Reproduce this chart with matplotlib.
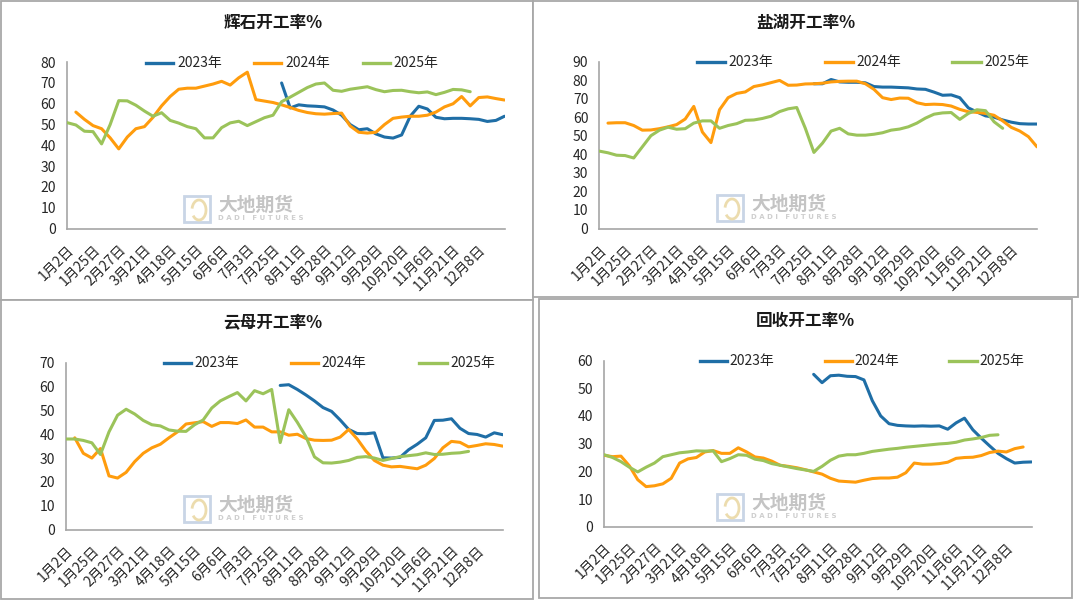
import numpy as np
import matplotlib
matplotlib.use('Agg')
import matplotlib.pyplot as plt
import matplotlib.transforms as mtransforms
from matplotlib.lines import Line2D
from matplotlib.patches import Rectangle, Arc

plt.rcParams['font.family'] = ['Noto Sans CJK SC', 'DejaVu Sans']

# ---------------- data ----------------
dates = ['1月2日', '1月25日', '2月27日', '3月21日', '4月18日', '5月15日', '6月6日',
         '7月3日', '7月25日', '8月11日', '8月28日', '9月12日', '9月29日',
         '10月20日', '11月6日', '11月21日', '12月8日']
n_points = 52
series_names = ['2023年', '2024年', '2025年']

# 辉石开工率%
hs_2023 = [None] * 25 + [70, 58, 59.5, 59, 58.8, 58.5, 57, 54.5, 50, 47.5, 48, 45.5, 44, 43.5,
                         45, 54, 58.8, 57.5, 53.5, 52.8, 53, 53, 52.8, 52.5, 51.5, 52, 54]
hs_2024 = [None, 56, 52.5, 49.5, 48, 43.6, 38.3, 44, 48, 49, 53.5, 59, 63.5, 67, 67.5, 67.5,
           68.5, 69.5, 70.8, 69, 72.5, 75.2, 62, 61.3, 60.6, 59.5, 58.2, 56.8, 55.8, 55.2, 55,
           55.3, 55.5, 49.3, 46.3, 45.9, 46.3, 50, 53, 53.6, 54, 54, 54.5, 56, 58.5, 60, 63.5,
           59, 63, 63.3, 62.5, 61.8]
hs_2025 = [50.9, 49.8, 46.8, 46.6, 40.7, 50, 61.5, 61.4, 59.3, 56.5, 54, 55.7, 52, 50.7, 49,
           48, 43.6, 43.6, 48.5, 50.8, 51.6, 49.5, 51.4, 53.3, 54.5, 61, 63.2, 65.5, 67.8, 69.5,
           70, 66.5, 66, 67, 67.6, 68.2, 66.8, 65.8, 66.4, 66.5, 65.8, 65.3, 65.7, 64.4, 65.5,
           66.9, 66.7, 65.8]

# 盐湖开工率%
yh_2023 = [None] * 25 + [78, 78, 80.3, 79, 78.8, 78.8, 78.5, 76.5, 76.2, 76.2, 76, 75.8, 75.2,
                         75, 73.5, 71.8, 72, 70.5, 65, 62.8, 60.7, 60, 58.5, 57.3, 56.5, 56.3, 56.3]
yh_2024 = [None, 56.8, 57, 57, 55.5, 53, 53.1, 53.8, 54.8, 56, 59, 65.8, 52, 46.3, 64, 70.5,
           72.8, 73.6, 76.5, 77.4, 78.6, 79.8, 77.2, 77.3, 77.9, 78, 78.3, 79, 79.3, 79.4, 79.4,
           78, 75, 70.5, 69.5, 70.3, 70.2, 67.8, 66.8, 67, 66.8, 66, 64.2, 62.9, 62.6, 62, 61,
           58, 54.5, 52.5, 49.5, 44]
yh_2025 = [41.7, 40.8, 39.5, 39.3, 38, 44, 50, 53, 54.6, 53.5, 53.8, 56.8, 58, 58, 54, 55.5,
           56.5, 58.3, 58.5, 59.3, 60.5, 63, 64.5, 65.2, 54, 41, 46, 52.5, 54, 51, 50.3, 50.3,
           50.8, 51.6, 53, 53.6, 54.8, 56.8, 59.5, 61.6, 62.3, 62.5, 58.8, 62, 64, 63.5, 57.5, 54]

# 云母开工率%
ym_2023 = [None] * 25 + [60.5, 60.8, 58.8, 56.5, 54, 51.2, 49.6, 46, 42, 40.3, 40.2, 40.6, 30.1,
                         30, 30.3, 33.5, 35.8, 38.5, 45.8, 45.9, 46.5, 42.5, 40.3, 39.9, 38.8,
                         40.6, 39.8]
ym_2024 = [None, 38.5, 32, 30, 34, 22.5, 21.6, 24, 28.5, 32, 34.3, 35.8, 38.5, 41, 44.3, 44.8,
           45.3, 43.3, 44.9, 44.9, 44.5, 46, 43, 43, 41, 41, 39.6, 40, 38.2, 37.5, 37.4, 37.5,
           38.8, 42, 38, 33, 29, 27, 26.3, 26.5, 26, 25.5, 27, 29.8, 34.3, 37, 36.6, 34.7, 35.3,
           36, 35.7, 35]
ym_2025 = [38, 38, 37.4, 36.4, 31.5, 41, 48, 50.5, 48.5, 45.8, 44, 43.5, 41.8, 41.3, 41.2, 44,
           46, 51, 54, 55.8, 57.5, 54, 58.3, 57, 58.8, 36.5, 50.3, 45, 39, 30.5, 28, 27.9, 28.3,
           29, 30.3, 30.6, 30, 29, 29.8, 30.6, 31, 31.4, 32.2, 31.5, 31.6, 32, 32.2, 32.8]

# 回收开工率%
hsh_2023 = [None] * 25 + [55, 52, 54.5, 54.7, 54.3, 54.2, 53, 45.5, 40, 37.2, 36.6, 36.4, 36.3,
                          36.4, 36.3, 36.4, 35.2, 37.5, 39.2, 35, 32, 29.2, 26.5, 24.6, 23, 23.3,
                          23.4]
hsh_2024 = [25.8, 25.3, 25.5, 22, 17, 14.5, 14.8, 15.5, 17.5, 23, 24.5, 25, 27, 27.5, 26.5,
            26.5, 28.5, 27, 25.2, 24.8, 23.7, 22.2, 21.8, 21.3, 20.6, 19.8, 19, 17.5, 16.5,
            16.3, 16.1, 16.8, 17.4, 17.6, 17.6, 17.9, 19.5, 23, 22.6, 22.6, 22.8, 23.3, 24.7,
            25, 25.1, 25.7, 26.8, 27.3, 27, 28.2, 28.8]
hsh_2025 = [26, 25, 23.5, 21.5, 19.8, 21.5, 23, 25.3, 26, 26.7, 27, 27.4, 27.3, 27.4, 23.5,
            24.6, 26, 25.8, 24.4, 23.9, 22.8, 22.2, 21.6, 21, 20.5, 20, 21.8, 24, 25.5, 26, 26,
            26.5, 27.2, 27.6, 28, 28.3, 28.7, 29, 29.3, 29.6, 29.9, 30.1, 30.5, 31.3, 31.7,
            32.2, 33, 33.2]

titles = ['辉石开工率%', '盐湖开工率%', '云母开工率%', '回收开工率%']
y_max = [80, 90, 70, 60]

# ---------------- style / layout ----------------
colors = ['#1f6ea6', '#ff9c0d', '#9bc35a']
W, H = 1080, 601
fig = plt.figure(figsize=(W / 100, H / 100), dpi=100)
fig.patch.set_facecolor('white')


def fx(x):
    return x / W


def fy(y):
    return 1 - y / H


layout = [
    dict(box=(1, 1, 533, 300), ax=(67.3, 62.2, 504.5, 228.5), title=(273, 22.8),
         leg_y=62.8, leg=[(146, 173, 177), (254, 281, 285), (363, 390, 393)], wm=(184, 196)),
    dict(box=(533, 1, 1078, 297), ax=(599.4, 61.5, 1037, 228.5), title=(806, 22.8),
         leg_y=62.0, leg=[(697, 725, 728), (825, 853, 856), (952, 981, 984)], wm=(717, 195)),
    dict(box=(1, 300, 533, 599), ax=(66.2, 362.8, 502.8, 529.5), title=(273, 323.5),
         leg_y=363.0, leg=[(164, 191, 194), (291, 318, 321), (419, 447, 450)], wm=(184, 496)),
    dict(box=(539, 299, 1072, 598), ax=(604.2, 360.5, 1031.5, 526.8), title=(805, 320.8),
         leg_y=361.0, leg=[(700, 727, 729), (825, 852, 854), (949, 977, 979)], wm=(717, 494)),
]

all_data = [(hs_2023, hs_2024, hs_2025), (yh_2023, yh_2024, yh_2025),
            (ym_2023, ym_2024, ym_2025), (hsh_2023, hsh_2024, hsh_2025)]

# panel frames
for L in layout:
    x0, y0, x1, y1 = L['box']
    fig.add_artist(Rectangle((fx(x0), fy(y1)), fx(x1) - fx(x0), fy(y0) - fy(y1),
                             transform=fig.transFigure, facecolor='white',
                             edgecolor='#a8a8a8', linewidth=1.3, zorder=-5))

tick_idx = list(range(0, 3 * len(dates), 3))
label_shift = mtransforms.ScaledTranslation(3 / 72, 0, fig.dpi_scale_trans)

for k, L in enumerate(layout):
    ax0, ay0, ax1, ay1 = L['ax']
    ax = fig.add_axes([fx(ax0), fy(ay1), fx(ax1) - fx(ax0), fy(ay0) - fy(ay1)])
    ax.patch.set_alpha(0)
    for s, series in enumerate(all_data[k]):
        y = np.array([np.nan if v is None else v for v in series], dtype=float)
        x = np.arange(len(y))
        ax.plot(x, y, color=colors[s], linewidth=2.2, solid_capstyle='round',
                solid_joinstyle='round', zorder=3)
    ax.set_xlim(0, n_points - 1)
    ax.set_ylim(0, y_max[k])
    ax.set_yticks(range(0, y_max[k] + 1, 10))
    ax.set_xticks(tick_idx)
    ax.set_xticklabels(dates, rotation=45, ha='right', va='top', rotation_mode='anchor',
                       fontsize=10, color='#262626')
    for lab in ax.get_xticklabels():
        lab.set_transform(lab.get_transform() + label_shift)
    for lab in ax.get_yticklabels():
        lab.set_fontsize(10)
        lab.set_color('#262626')
    ax.tick_params(axis='both', length=0)
    ax.tick_params(axis='x', pad=10)
    ax.tick_params(axis='y', pad=8)
    for sp in ['top', 'right']:
        ax.spines[sp].set_visible(False)
    for sp in ['left', 'bottom']:
        ax.spines[sp].set_color('#a6a6a6')
        ax.spines[sp].set_linewidth(1.2)

    # title
    fig.text(fx(L['title'][0]), fy(L['title'][1]), titles[k], ha='center', va='center',
             fontsize=12, fontweight='bold', color='#1a1a1a')

    # legend
    ly = fy(L['leg_y'])
    for s, (lx0, lx1, tx) in enumerate(L['leg']):
        fig.add_artist(Line2D([fx(lx0), fx(lx1)], [ly, ly], transform=fig.transFigure,
                              color=colors[s], linewidth=2.4))
        fig.text(fx(tx), ly, series_names[s], ha='left', va='center', fontsize=10,
                 color='#262626')

    # watermark
    wx, wy = L['wm']
    ax.add_patch(Rectangle((fx(wx), fy(wy + 26)), fx(26), 26 / H, transform=fig.transFigure,
                           facecolor='none', edgecolor='#c9d5e6', linewidth=2.0, zorder=1))
    ax.add_patch(Arc((fx(wx + 15), fy(wy + 14)), fx(14), 20 / H, theta1=-120, theta2=160,
                     transform=fig.transFigure, edgecolor='#ecdcae', linewidth=2.0, zorder=1))
    ax.text(fx(wx + 34), fy(wy + 9), '大地期货', transform=fig.transFigure, ha='left',
            va='center', fontsize=13.5, fontweight='bold', color='#c4c4c4', zorder=1)
    ax.text(fx(wx + 34), fy(wy + 22), 'D A D I   F U T U R E S', transform=fig.transFigure,
            ha='left', va='center', fontsize=5, fontweight='bold', color='#cfcfcf', zorder=1,
            family=['DejaVu Sans'])

fig.savefig('out.png', dpi=100, facecolor='white')
